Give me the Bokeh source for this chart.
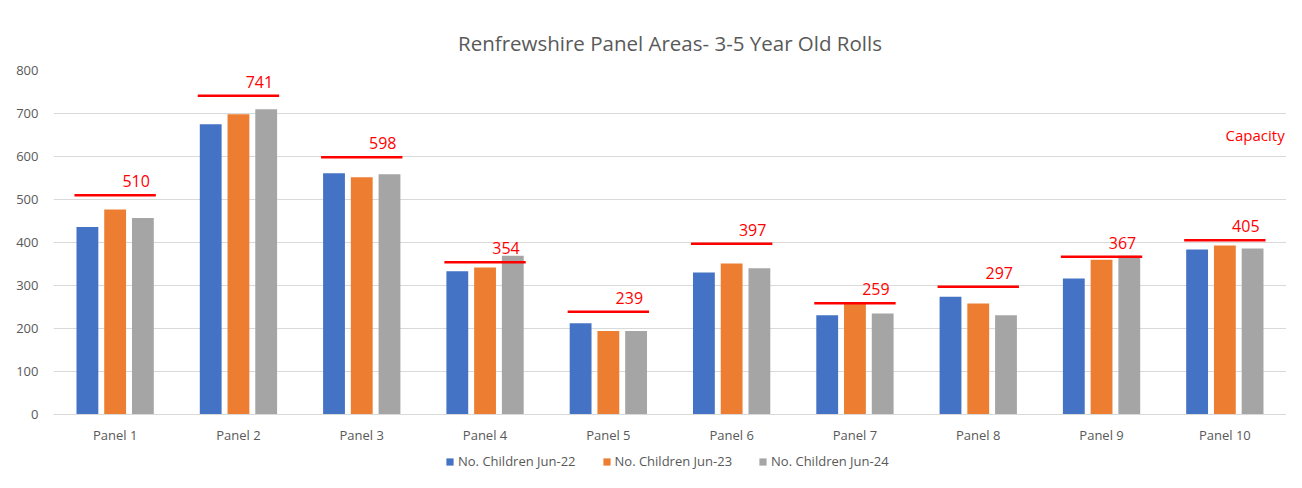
from bokeh.plotting import figure
from bokeh.models import (ColumnDataSource, FactorRange, Range1d, Legend, LegendItem,
                          SingleIntervalTicker, Title)
from bokeh.layouts import column
from bokeh.transform import dodge
from bokeh.core.properties import value
from bokeh.embed import file_html
from bokeh.resources import INLINE

panels = ["Panel 1", "Panel 2", "Panel 3", "Panel 4", "Panel 5",
          "Panel 6", "Panel 7", "Panel 8", "Panel 9", "Panel 10"]
jun22 = [436, 675, 561, 333, 212, 330, 231, 274, 316, 384]
jun23 = [477, 698, 552, 342, 194, 351, 258, 258, 360, 393]
jun24 = [457, 710, 559, 369, 194, 340, 235, 231, 369, 386]
capacity = [510, 741, 598, 354, 239, 397, 259, 297, 367, 405]
series_names = ["No. Children Jun-22", "No. Children Jun-23", "No. Children Jun-24"]
colors = ["#4472C4", "#ED7D31", "#A5A5A5"]

FONT = "Open Sans"
GREY = "#595959"

src = ColumnDataSource(dict(panel=panels, jun22=jun22, jun23=jun23, jun24=jun24,
                            capacity=capacity, cap_label=[str(c) for c in capacity]))

p = figure(x_range=FactorRange(*panels), y_range=Range1d(0, 800),
           width=1286, height=446, output_backend="svg", toolbar_location=None,
           min_border_left=53, min_border_right=0, min_border_top=70, min_border_bottom=26)

p.title = Title(text="Renfrewshire Panel Areas- 3-5 Year Old Rolls", align="center",
                text_font=FONT, text_font_size="20.5px", text_font_style="normal",
                text_color=GREY, standoff=28)

offs = [-0.225, 0.0, 0.225]
cols = ["jun22", "jun23", "jun24"]
for off, col, c in zip(offs, cols, colors):
    p.vbar(x=dodge("panel", off, range=p.x_range), top=col, width=0.177,
           source=src, fill_color=c, line_color=None)

p.segment(x0=dodge("panel", -0.33, range=p.x_range), x1=dodge("panel", 0.33, range=p.x_range),
          y0="capacity", y1="capacity", source=src, line_color="#FF0000", line_width=2.5)
p.text(x=dodge("panel", 0.17, range=p.x_range), y="capacity", text="cap_label", source=src,
       text_align="center", text_baseline="bottom", y_offset=-8,
       text_font=value(FONT), text_font_size="16px", text_color="#FF0000")

cap_src = ColumnDataSource(dict(x=["Panel 10"], y=[650], t=["Capacity"]))
p.text(x=dodge("x", 0.485, range=p.x_range), y="y", text="t", source=cap_src,
       text_align="right", text_baseline="middle",
       text_font=value(FONT), text_font_size="15px", text_color="#FF0000")

p.xgrid.grid_line_color = None
p.ygrid.grid_line_color = "#D9D9D9"
p.outline_line_color = None

p.yaxis.ticker = SingleIntervalTicker(interval=100)
p.yaxis.axis_line_color = None
p.yaxis.major_tick_line_color = None
p.yaxis.minor_tick_line_color = None
p.yaxis.major_label_text_color = GREY
p.yaxis.major_label_text_font = FONT
p.yaxis.major_label_text_font_size = "13px"
p.yaxis.major_label_standoff = 9

p.xaxis.axis_line_color = "#D9D9D9"
p.xaxis.major_tick_line_color = None
p.xaxis.minor_tick_line_color = None
p.xaxis.major_label_text_color = GREY
p.xaxis.major_label_text_font = FONT
p.xaxis.major_label_text_font_size = "13px"
p.xaxis.major_label_standoff = 5

# legend strip below the chart (swatch renderers sit outside the visible range)
lf = figure(width=1286, height=26, output_backend="svg", toolbar_location=None,
            x_range=Range1d(0, 1), y_range=Range1d(0, 1),
            min_border_left=0, min_border_right=0, min_border_top=0, min_border_bottom=0)
lf.axis.visible = False
lf.grid.grid_line_color = None
lf.outline_line_color = None
leg_renderers = []
for c in colors:
    leg_renderers.append(lf.vbar(x=[-5], top=[-5], bottom=[-6], width=0.1,
                                 fill_color=c, line_color=None))

legend = Legend(items=[LegendItem(label=n, renderers=[r]) for n, r in zip(series_names, leg_renderers)],
                orientation="horizontal", location=(392, 2),
                label_text_font=FONT, label_text_font_size="13px", label_text_color=GREY,
                glyph_width=9, glyph_height=9, label_standoff=4, spacing=26,
                border_line_color=None, background_fill_alpha=0, padding=2, margin=0)
lf.add_layout(legend)

layout = column(p, lf, spacing=0)
open("out.html", "w").write(file_html(layout, INLINE))
